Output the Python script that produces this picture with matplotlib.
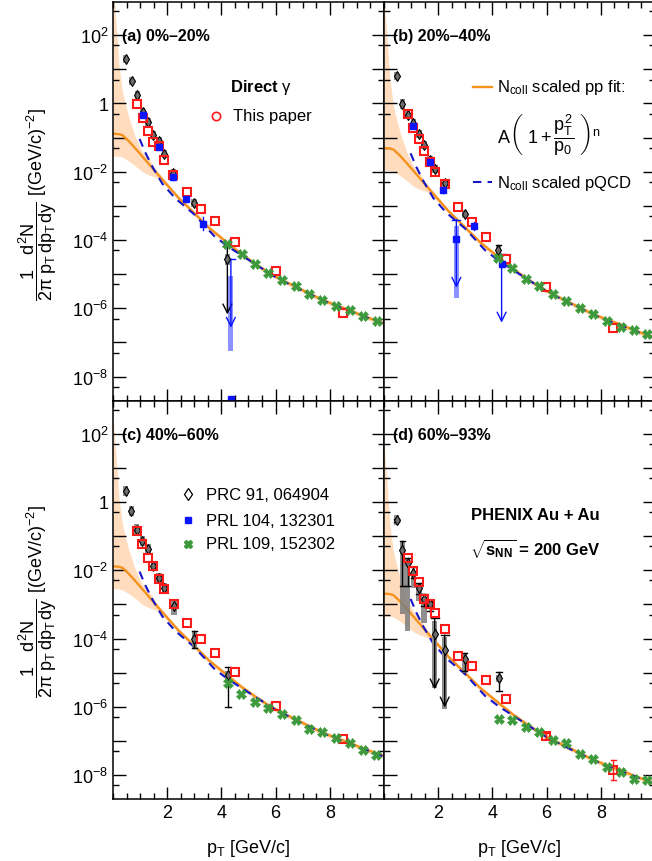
import numpy as np
import matplotlib
matplotlib.use("Agg")
import matplotlib.pyplot as plt
from matplotlib.patches import Rectangle
from matplotlib.ticker import FixedLocator, FuncFormatter, MultipleLocator, NullFormatter

plt.rcParams['font.family'] = ['Liberation Sans', 'DejaVu Sans']
plt.rcParams['mathtext.fontset'] = 'custom'
plt.rcParams['mathtext.rm'] = 'Liberation Sans'
plt.rcParams['mathtext.it'] = 'Liberation Sans'
plt.rcParams['mathtext.sf'] = 'Liberation Sans'
plt.rcParams['mathtext.bf'] = 'Liberation Sans:bold'

# -----------------------
# DATA (log10 of the invariant yield)
# -----------------------
panel_names = ["(a) 0%–20%", "(b) 20%–40%", "(c) 40%–60%", "(d) 60%–93%"]
ncoll_shift = [0.0, -0.42, -1.0, -1.8]   # decades, relative to panel (a)

# N_coll scaled pp fit (panel a) with its uncertainty band
fit_pt = [0.0, 0.05, 0.1, 0.22, 0.35, 0.59, 0.84, 1.08, 1.33, 1.6, 2.0, 2.4, 2.8,
          3.54, 4.25, 4.75, 5.25, 5.75, 6.25, 6.75, 7.25, 7.75, 8.25, 8.75, 9.25, 9.75, 10.0]
fit_log = [-0.89, -0.89, -0.89, -0.90, -0.93, -1.11, -1.33, -1.55, -1.78, -2.03, -2.39, -2.75, -3.06,
           -3.64, -4.10, -4.42, -4.70, -4.96, -5.18, -5.37, -5.57, -5.76, -5.92, -6.06, -6.23, -6.37, -6.44]
fit_hi = [3.6, 3.0, 2.5, 1.13, 0.33, -0.43, -1.01, -1.41, -1.62, -1.95, -2.32, -2.69, -3.0,
          -3.58, -4.04, -4.36, -4.64, -4.90, -5.12, -5.31, -5.51, -5.70, -5.86, -6.00, -6.17, -6.31, -6.38]
fit_lo = [-1.54, -1.54, -1.54, -1.55, -1.57, -1.69, -1.84, -2.0, -2.10, -2.17, -2.46, -2.82, -3.13,
          -3.71, -4.17, -4.49, -4.77, -5.03, -5.25, -5.44, -5.64, -5.83, -5.99, -6.13, -6.30, -6.44, -6.51]

# N_coll scaled pQCD (panel a)
pqcd_pt = [0.98, 1.2, 1.45, 1.82, 2.3, 3.0, 3.73, 4.22, 5.0, 6.0, 7.0, 8.0, 9.0, 10.0]
pqcd_log = [-1.04, -1.45, -1.85, -2.35, -2.78, -3.25, -3.88, -4.18, -4.58, -5.09, -5.49, -5.86, -6.16, -6.46]

# PRC 91, 064904 (open diamonds, grey systematic boxes)
prc_pt = [[0.47, 0.69, 0.90, 1.09, 1.29, 1.49, 1.70, 1.89, 2.23, 2.99, 4.22],
          [0.47, 0.68, 0.87, 1.08, 1.29, 1.48, 1.69, 1.88, 2.24, 2.98, 4.22],
          [0.47, 0.68, 0.87, 1.08, 1.29, 1.49, 1.70, 1.89, 2.25, 3.00, 4.24],
          [0.47, 0.68, 0.87, 1.08, 1.29, 1.48, 1.69, 1.87, 2.24, 2.98, 4.24]]
prc_log = [[1.30, 0.65, 0.25, -0.26, -0.55, -0.92, -1.09, -1.48, -2.04, -2.91, -4.57],
           [0.81, -0.02, -0.33, -0.57, -0.89, -1.21, -1.65, -1.91, -2.33, -3.23, -4.28],
           [0.31, -0.27, -0.81, -1.15, -1.39, -1.88, -2.22, -2.51, -3.05, -4.02, -5.08],
           [-0.54, -1.42, -1.78, -2.07, -2.51, -2.85, -3.00, -3.86, -4.35, -4.61, -5.16]]
prc_sys_lo = [[0.12, 0.12, 0.12, 0.12, 0.12, 0.12, 0.12, 0.12, 0.12, 0.12, 0.17],
              [0.12, 0.15, 0.12, 0.12, 0.12, 0.12, 0.12, 0.12, 0.12, 0.12, 0.12],
              [0.15, 0.15, 0.15, 0.15, 0.15, 0.15, 0.15, 0.15, 0.25, 0.25, 0.12],
              [0.15, 1.87, 2.00, 0.44, 0.39, 0.71, 0.10, 0.0, 0.0, 0.39, 0.10]]
prc_sys_hi = [[0.12, 0.12, 0.12, 0.12, 0.12, 0.12, 0.12, 0.12, 0.12, 0.12, 0.17],
              [0.12, 0.15, 0.12, 0.12, 0.12, 0.12, 0.12, 0.12, 0.12, 0.12, 0.12],
              [0.15, 0.15, 0.15, 0.15, 0.15, 0.15, 0.15, 0.15, 0.15, 0.25, 0.12],
              [0.15, 0.27, 0.15, 0.05, 0.10, 0.05, 0.15, 0.0, 0.0, 0.15, 0.10]]
prc_err_lo = [[0, 0, 0, 0, 0, 0, 0, 0, 0, 0, 0],
              [0, 0, 0, 0, 0, 0, 0, 0, 0, 0, 0.12],
              [0, 0, 0, 0, 0, 0, 0, 0, 0, 0.25, 0.92],
              [0.05, 1.04, 0.68, 0.15, 0.20, 0.20, 0.20, 0, 0, 0.34, 0.37]]
prc_err_hi = [[0, 0, 0, 0, 0, 0, 0, 0, 0, 0, 0],
              [0, 0, 0, 0, 0, 0, 0, 0, 0, 0, 0.12],
              [0, 0, 0, 0, 0, 0, 0, 0, 0, 0.25, 0.25],
              [0.05, 0.27, 0.15, 0.15, 0.15, 0.15, 0.10, 0, 0, 0.20, 0.19]]

# This paper (red open markers)
red_pt = [[0.90, 1.09, 1.29, 1.49, 1.70, 1.89, 2.23, 2.74, 3.26, 3.75, 4.49, 6.00, 8.49],
          [0.87, 1.08, 1.29, 1.48, 1.69, 1.88, 2.24, 2.73, 3.24, 3.75, 4.49, 5.99, 8.46],
          [0.87, 1.08, 1.29, 1.49, 1.70, 1.89, 2.25, 2.74, 3.25, 3.75, 4.49, 6.00, 8.49],
          [0.87, 1.08, 1.29, 1.48, 1.69, 1.88, 2.24, 2.73, 3.24, 3.75, 4.49, 5.99, 8.46]]
red_log = [[-0.02, -0.43, -0.82, -1.14, -1.25, -1.65, -2.11, -2.59, -3.08, -3.45, -4.06, -4.91, -6.15],
           [-0.30, -0.72, -1.04, -1.38, -1.72, -2.00, -2.36, -3.04, -3.48, -3.91, -4.55, -5.38, -6.57],
           [-0.86, -1.23, -1.63, -1.88, -2.25, -2.55, -3.00, -3.54, -4.02, -4.41, -4.98, -5.97, -6.95],
           [-1.63, -2.01, -2.34, -2.85, -2.98, -3.24, -3.73, -4.51, -4.80, -5.22, -5.78, -6.85, -7.85]]
red_err = [[0] * 13, [0] * 13, [0] * 13,
           [0, 0, 0, 0, 0, 0, 0, 0, 0, 0, 0, 0.08, 0.30]]

# PRL 104, 132301 (blue squares)
blue_pt = [[1.09, 1.70, 2.23, 2.70, 3.33, 4.35],
           [1.08, 1.69, 2.19, 2.67, 3.32, 4.34], [], []]
blue_log = [[-0.33, -1.28, -2.15, -2.79, -3.52, -8.65],
            [-0.65, -1.72, -2.55, -3.96, -3.59, -4.70], [], []]
blue_err = [[0.05, 0.05, 0.08, 0.08, 0.20, 0], [0.05, 0.05, 0.08, 0, 0.12, 0], [], []]

# PRL 109, 152302 (green crosses)
green_pt = [[4.22, 4.75, 5.24, 5.72, 6.22, 6.74, 7.23, 7.72, 8.24, 8.73, 9.24, 9.73],
            [4.22, 4.71, 5.23, 5.72, 6.24, 6.73, 7.23, 7.72, 8.22, 8.73, 9.22, 9.72],
            [4.24, 4.73, 5.23, 5.73, 6.22, 6.74, 7.23, 7.72, 8.24, 8.73, 9.23, 9.69],
            [4.24, 4.73, 5.23, 5.72, 6.24, 6.73, 7.23, 7.72, 8.22, 8.73, 9.23, 9.72]]
green_log = [[-4.11, -4.42, -4.70, -4.96, -5.18, -5.36, -5.57, -5.76, -5.92, -6.06, -6.23, -6.37],
             [-4.52, -4.83, -5.13, -5.35, -5.57, -5.79, -5.98, -6.16, -6.37, -6.55, -6.65, -6.76],
             [-5.29, -5.63, -5.85, -6.04, -6.20, -6.39, -6.65, -6.73, -6.90, -7.07, -7.27, -7.41],
             [-6.36, -6.39, -6.59, -6.75, -6.98, -7.06, -7.37, -7.53, -7.77, -7.92, -8.12, -8.15]]

# upper limits: panel, pT, top of arrow, arrow tip, band low, band high (None = no band)
ul_panel = [0, 3, 3, 0, 1, 1]
ul_pt = [4.22, 1.87, 2.24, 4.35, 2.67, 4.34]
ul_top = [-4.18, -3.41, -3.90, -4.55, -3.40, -4.42]
ul_tip = [-6.18, -5.49, -6.02, -6.57, -5.40, -6.42]
ul_band = [None, (-5.44, -3.49), (-6.07, -3.97), (-7.24, -5.05), (-5.70, -3.60), None]
ul_kind = ["prc", "prc", "prc", "blue", "blue", "blue"]

# -----------------------
# STYLE
# -----------------------
c_orange = "#f5921e"
c_band = "#fedcbd"
c_pqcd = "#1414c8"
c_red = "#ff1a1a"
c_blue = "#0a14ff"
c_lblue = "#8c92ff"
c_green = "#3c9a3c"
c_grey = "#7d7d7d"

W, H = 652, 862
left_px = [113, 384, 113, 384]
top_px = [3, 3, 401.5, 401.5]
w_px, h_px = 271, 398.5


def ylab(v, pos):
    k = int(round(np.log10(v)))
    if k % 2:
        return ""
    if k == 0:
        return "1"
    return r"$10^{%d}$" % k


fig = plt.figure(figsize=(W / 100, H / 100), dpi=100)
axes = []
for p in range(4):
    ax = fig.add_axes([left_px[p] / W, 1 - (top_px[p] + h_px) / H, w_px / W, h_px / H])
    axes.append(ax)
    s = ncoll_shift[p]

    ax.set_yscale("log")
    ax.set_xlim(0, 10)
    ax.set_ylim(10 ** -8.7, 10 ** 2.97)

    # fit band, fit and pQCD curves
    ax.fill_between(fit_pt, 10 ** (np.array(fit_lo) + s), 10 ** (np.array(fit_hi) + s),
                    color=c_band, lw=0, zorder=1)
    ax.plot(fit_pt, 10 ** (np.array(fit_log) + s), color=c_orange, lw=1.7, zorder=2)
    ax.plot(pqcd_pt, 10 ** (np.array(pqcd_log) + s), color=c_pqcd, lw=1.5,
            ls=(0, (4, 3)), zorder=3)

    # upper limit bands / arrows
    for i in range(len(ul_pt)):
        if ul_panel[i] != p:
            continue
        col = "black" if ul_kind[i] == "prc" else c_blue
        bcol = "#8c8c8c" if ul_kind[i] == "prc" else c_lblue
        x = ul_pt[i]
        if ul_band[i] is not None:
            b0, b1 = ul_band[i]
            ax.add_patch(Rectangle((x - 0.09, 10 ** b0), 0.18, 10 ** b1 - 10 ** b0,
                                   color=bcol, lw=0, zorder=4))
        ax.plot([x - 0.15, x + 0.15], [10 ** ul_top[i]] * 2, color=col, lw=1, zorder=6)
        ax.annotate("", xy=(x, 10 ** ul_tip[i]), xytext=(x, 10 ** ul_top[i]),
                    arrowprops=dict(arrowstyle="->", color=col, lw=1.0,
                                    mutation_scale=16, shrinkA=0, shrinkB=0), zorder=6)

    # PRC 91 diamonds
    for x, y, lo, hi in zip(prc_pt[p], prc_log[p], prc_sys_lo[p], prc_sys_hi[p]):
        if lo + hi > 0:
            ax.add_patch(Rectangle((x - 0.1, 10 ** (y - lo)), 0.2, 10 ** (y + hi) - 10 ** (y - lo),
                                   color=c_grey, lw=0, alpha=0.85, zorder=4))
    for x, y, lo, hi in zip(prc_pt[p], prc_log[p], prc_err_lo[p], prc_err_hi[p]):
        if lo + hi > 0:
            ax.plot([x, x], [10 ** (y - lo), 10 ** (y + hi)], color="black", lw=1, zorder=5)
            ax.plot([x - 0.1, x + 0.1], [10 ** (y - lo)] * 2, color="black", lw=1, zorder=5)
            ax.plot([x - 0.1, x + 0.1], [10 ** (y + hi)] * 2, color="black", lw=1, zorder=5)
    ax.plot(prc_pt[p], 10 ** np.array(prc_log[p]), ls="none", marker="d", ms=5.5,
            mfc="#6e6e6e", mec="black", mew=0.8, zorder=6)

    # This paper
    for x, y, e in zip(red_pt[p], red_log[p], red_err[p]):
        if e > 0:
            ax.plot([x, x], [10 ** (y - e), 10 ** (y + e)], color=c_red, lw=1, zorder=7)
            ax.plot([x - 0.1, x + 0.1], [10 ** (y - e)] * 2, color=c_red, lw=1, zorder=7)
            ax.plot([x - 0.1, x + 0.1], [10 ** (y + e)] * 2, color=c_red, lw=1, zorder=7)
    ax.plot(red_pt[p], 10 ** np.array(red_log[p]), ls="none", marker="s", ms=5.5,
            mfc="none", mec=c_red, mew=1.5, zorder=8)

    # PRL 104
    if blue_pt[p]:
        for x, y, e in zip(blue_pt[p], blue_log[p], blue_err[p]):
            if e > 0:
                ax.plot([x, x], [10 ** (y - e), 10 ** (y + e)], color=c_blue, lw=1, zorder=7)
        ax.plot(blue_pt[p], 10 ** np.array(blue_log[p]), ls="none", marker="s", ms=5,
                mfc=c_blue, mec=c_blue, zorder=8)

    # PRL 109
    ax.plot(green_pt[p], 10 ** np.array(green_log[p]), ls="none", marker="X", ms=7,
            mfc=c_green, mec=c_green, mew=0.5, zorder=8)

    # axes / ticks
    ax.yaxis.set_major_locator(FixedLocator(10.0 ** np.arange(-9, 4)))
    ax.yaxis.set_minor_locator(FixedLocator(5 * 10.0 ** np.arange(-10, 3)))
    ax.yaxis.set_minor_formatter(NullFormatter())
    ax.xaxis.set_major_locator(FixedLocator([2, 4, 6, 8]))
    ax.xaxis.set_minor_locator(MultipleLocator(0.5))
    ax.tick_params(which="both", direction="in", top=True, right=True, width=1, labelsize=13)
    ax.tick_params(which="major", length=9)
    ax.tick_params(which="minor", length=4.5)
    if p in (0, 2):
        ax.yaxis.set_major_formatter(FuncFormatter(ylab))
    else:
        ax.yaxis.set_major_formatter(NullFormatter())
    if p in (0, 1):
        ax.xaxis.set_major_formatter(NullFormatter())
    for sp in ax.spines.values():
        sp.set_linewidth(1.1)

    ax.text(0.035, 0.915, panel_names[p], transform=ax.transAxes, fontsize=11.5,
            fontweight="bold", va="center", ha="left")

# -----------------------
# LEGENDS / LABELS
# -----------------------
a, b, c, d = axes
a.text(0.432, 0.787, r"Direct $\gamma$", transform=a.transAxes, fontsize=12,
       fontweight="bold", va="center")
a.plot([0.38], [0.714], transform=a.transAxes, marker="o", ms=6, mfc="none", mec=c_red, mew=1.2)
a.text(0.443, 0.714, "This paper", transform=a.transAxes, fontsize=12, va="center")

b.plot([0.33, 0.40], [0.787, 0.787], transform=b.transAxes, color=c_orange, lw=1.7)
b.text(0.417, 0.787, r"N$_{\rm coll}$ scaled pp fit:", transform=b.transAxes, fontsize=12, va="center")
b.text(0.417, 0.669, r"$A\left(\ 1+\dfrac{p_T^2}{p_0}\ \right)^n$", transform=b.transAxes,
       fontsize=13, va="center")
b.plot([0.33, 0.40], [0.548, 0.548], transform=b.transAxes, color=c_pqcd, lw=1.5, ls=(0, (4, 3)))
b.text(0.417, 0.548, r"N$_{\rm coll}$ scaled pQCD", transform=b.transAxes, fontsize=12, va="center")

c.plot([0.278], [0.765], transform=c.transAxes, marker="d", ms=6, mfc="white", mec="black", mew=0.9)
c.text(0.343, 0.765, "PRC 91, 064904", transform=c.transAxes, fontsize=12, va="center")
c.plot([0.278], [0.70], transform=c.transAxes, marker="s", ms=5, mfc=c_blue, mec=c_blue)
c.text(0.343, 0.70, "PRL 104, 132301", transform=c.transAxes, fontsize=12, va="center")
c.plot([0.278], [0.64], transform=c.transAxes, marker="X", ms=6, mfc=c_green, mec=c_green)
c.text(0.343, 0.64, "PRL 109, 152302", transform=c.transAxes, fontsize=12, va="center")

d.text(0.56, 0.715, "PHENIX Au + Au", transform=d.transAxes, fontsize=12,
       fontweight="bold", ha="center", va="center")
d.text(0.56, 0.632, r"$\mathbf{\sqrt{s_{NN}}}$ = 200 GeV", transform=d.transAxes, fontsize=12,
       fontweight="bold", ha="center", va="center")

ylabel = r"$\dfrac{1\quad d^2N}{2\pi\ p_T\, dp_T\, dy}$ [(GeV/c)$^{-2}$]"
for yc in (205, 602):
    fig.text(38 / W, 1 - yc / H, ylabel, rotation=90, fontsize=13, ha="center", va="center")
for xc in (248, 519):
    fig.text(xc / W, 1 - 849 / H, r"p$_T$ [GeV/c]", fontsize=13, ha="center", va="center")

fig.savefig("out.png", dpi=100)
